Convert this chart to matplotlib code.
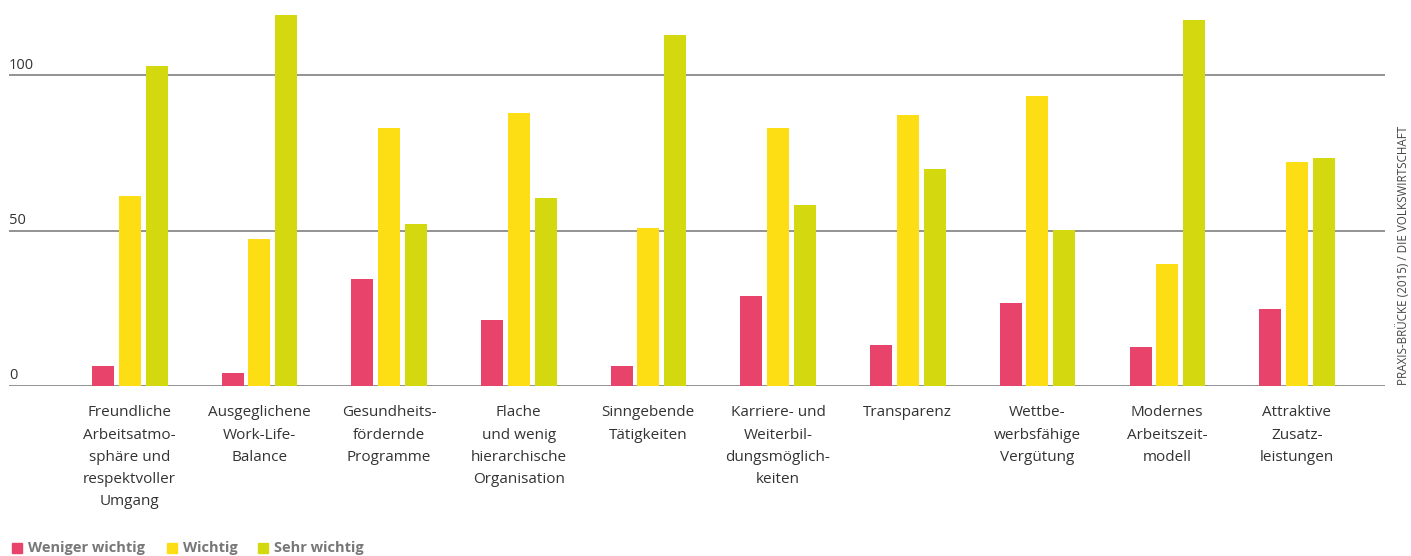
import matplotlib
matplotlib.use('Agg')
from matplotlib import pyplot as plt
import numpy as np

categories = [
    'Freundliche\nArbeitsatmo-\nsphäre und\nrespektvoller\nUmgang',
    'Ausgeglichene\nWork-Life-\nBalance',
    'Gesundheits-\nfördernde\nProgramme',
    'Flache\nund wenig\nhierarchische\nOrganisation',
    'Sinngebende\nTätigkeiten',
    'Karriere- und\nWeiterbil-\ndungsmöglich-\nkeiten',
    'Transparenz',
    'Wettbe-\nwerbsfähige\nVergütung',
    'Modernes\nArbeitszeit-\nmodell',
    'Attraktive\nZusatz-\nleistungen',
]
weniger_wichtig = [6.4, 4.2, 34.4, 21.2, 6.4, 29.0, 13.2, 26.7, 12.6, 24.8]
wichtig = [61.2, 47.3, 83.0, 87.9, 50.9, 83.0, 87.2, 93.3, 39.3, 72.1]
sehr_wichtig = [103.0, 119.4, 52.1, 60.5, 113.0, 58.3, 69.8, 50.2, 117.8, 73.4]
series_names = ['Weniger wichtig', 'Wichtig', 'Sehr wichtig']
colors = ['#e8436a', '#fddd14', '#d4d90f']
y_ticks = [0, 50, 100]

plt.rcParams['font.family'] = ['Open Sans', 'DejaVu Sans']

W, H = 1411, 556
fig = plt.figure(figsize=(W / 100, H / 100), dpi=100)
ax = fig.add_axes([9 / W, (H - 386) / H, (1385 - 9) / W, (386 - 13.2) / H])

x = np.arange(len(categories))
width = 0.17
offsets = [-0.205, 0, 0.208]
for vals, off, col, name in zip([weniger_wichtig, wichtig, sehr_wichtig], offsets, colors, series_names):
    ax.bar(x + off, vals, width, color=col, label=name, zorder=3)

ax.set_xlim(-0.93, 9.68)
ax.set_ylim(0, 120)
for t in y_ticks:
    ax.axhline(t, color='#8a8a8a', lw=1.3, zorder=1)
    ax.text(0.0, t + 0.9, str(t), transform=ax.get_yaxis_transform(),
            ha='left', va='bottom', fontsize=10.5, color='#333333')

for s in ax.spines.values():
    s.set_visible(False)
ax.set_xticks([])
ax.set_yticks([])

for i, cat in enumerate(categories):
    ax.text(i, -6.2, cat, ha='center', va='top', fontsize=11, color='#333333',
            linespacing=1.66)

# legend
ly = 548
items = [(12, 'Weniger wichtig'), (167, 'Wichtig'), (258, 'Sehr wichtig')]
for (px, name), col in zip(items, colors):
    fig.patches.append(plt.Rectangle((px / W, (H - ly - 5) / H), 10 / W, 10 / H,
                                     transform=fig.transFigure, color=col))
    fig.text((px + 16) / W, (H - ly) / H, name, ha='left', va='center',
             fontsize=10.5, fontweight='bold', color='#777777')

fig.text(1403 / W, (H - 385) / H, 'PRAXIS-BRÜCKE (2015) / DIE VOLKSWIRTSCHAFT',
         rotation=90, ha='center', va='bottom', fontsize=8.4, color='#444444')

fig.savefig('out.png', dpi=100)
